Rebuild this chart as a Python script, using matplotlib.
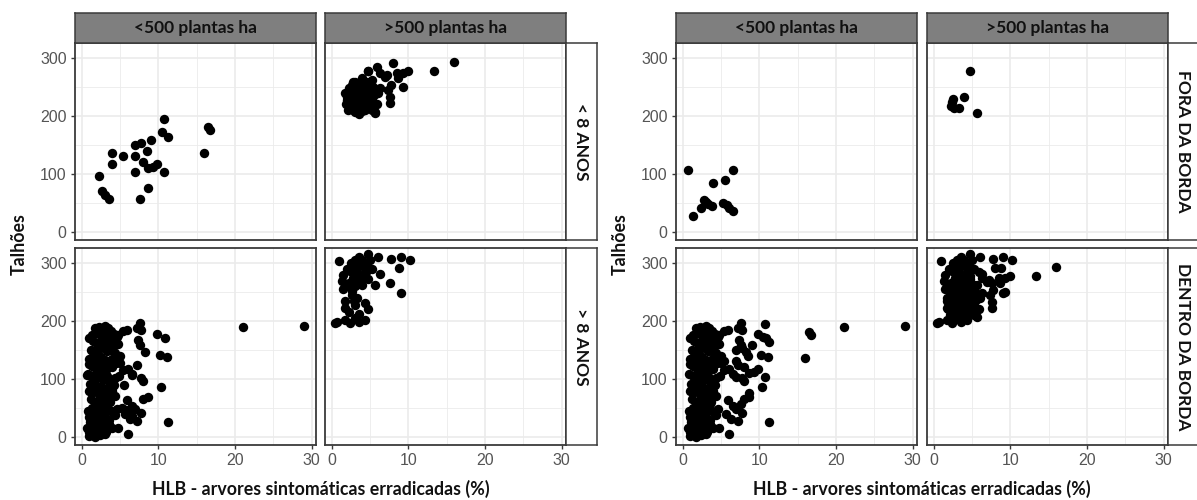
import matplotlib.pyplot as plt
import pandas as pd
from matplotlib.ticker import MultipleLocator

# facet levels
densidade = ['<500 plantas ha', '>500 plantas ha']
idade = ['< 8 ANOS', '> 8 ANOS']
borda = ['FORA DA BORDA', 'DENTRO DA BORDA']

# <500 plantas, < 8 anos, dentro da borda
x_a = [10.7, 16.5, 16.7, 10.5, 11.3, 9.1, 7.0, 7.8, 8.5, 3.9, 5.4, 7.0, 16.0, 4.0, 8.0,
       8.7, 9.8, 9.3, 10.7, 7.0, 2.3, 2.6, 3.0, 3.5, 8.6, 7.6]
y_a = [195, 181, 175, 172, 164, 158, 150, 154, 139, 136, 131, 131, 136, 118, 121,
       110, 117, 112, 103, 103, 96, 70, 64, 57, 75, 56]

# <500 plantas, > 8 anos, dentro da borda
x_b = [1.3, 1.8, 2.2, 2.6, 3.0, 3.4, 3.8, 4.2, 4.6, 2.0, 2.8, 3.6,
       1.0, 1.5, 2.0, 2.5, 3.0, 3.5, 4.0, 4.4, 1.2, 1.8, 2.3, 2.8, 3.3, 3.8, 4.3, 4.8,
       1.0, 1.5, 2.0, 2.5, 3.0, 3.5, 4.0, 4.5, 1.3, 1.9, 2.6, 3.2, 3.9, 0.9, 5.0,
       0.8, 1.3, 1.8, 2.3, 2.8, 3.3, 3.8, 4.4, 1.1, 2.0, 2.7, 3.5, 4.2, 4.9,
       0.9, 1.4, 1.9, 2.4, 2.9, 3.4, 3.9, 1.2, 1.7, 2.2, 2.7, 3.2, 3.7, 4.3,
       0.8, 1.3, 1.8, 2.3, 2.8, 3.3, 3.8, 4.3, 1.0, 1.6, 2.1, 2.6, 3.1, 3.6, 4.6,
       0.7, 1.0, 1.3, 1.6, 2.0, 2.4, 2.8, 3.2, 3.6, 1.1, 2.2, 0.9, 1.8, 3.0, 4.0,
       7.6, 7.2, 7.8, 9.8, 10.9, 7.4, 7.6, 8.3, 10.2, 11.1, 7.2, 6.1, 6.5, 7.8, 8.0,
       10.3, 8.0, 8.7, 7.8, 11.3, 5.9, 6.5, 7.0, 5.7, 6.3, 7.2, 6.1, 4.8, 5.4, 5.0,
       5.9, 4.8, 5.4, 21.0, 29.0]
y_b = [175, 188, 190, 186, 192, 188, 183, 178, 172, 180, 178, 176,
       170, 165, 160, 168, 170, 162, 165, 158, 150, 145, 152, 155, 148, 150, 145, 160,
       135, 140, 130, 138, 132, 125, 135, 128, 122, 118, 120, 115, 120, 125, 140,
       108, 105, 100, 110, 98, 105, 95, 102, 92, 88, 85, 88, 90, 105,
       80, 75, 82, 70, 78, 72, 80, 65, 60, 62, 58, 65, 60, 70,
       45, 50, 42, 48, 40, 52, 45, 38, 35, 30, 33, 28, 35, 30, 48,
       15, 8, 20, 5, 12, 3, 18, 8, 22, 25, 22, 2, 0, 5, 15,
       197, 188, 185, 177, 170, 167, 159, 147, 141, 138, 124, 118, 109, 101, 96,
       86, 66, 69, 42, 26, 63, 54, 48, 40, 31, 28, 5, 16, 115, 127,
       185, 176, 182, 190, 192]

# <500 plantas, > 8 anos, fora da borda
x_c = [0.74, 6.6, 5.5, 3.9, 2.8, 2.4, 3.3, 3.8, 5.2, 5.8, 6.1, 6.5, 1.4, 3.0]
y_c = [107, 107, 89, 84, 55, 42, 48, 45, 50, 47, 41, 36, 27, 52]

# >500 plantas, < 8 anos, dentro da borda
x_d = [15.9, 13.3, 8.0, 5.9, 4.8, 7.2, 6.3, 8.5, 9.3, 10.0, 8.7, 7.8, 7.4, 9.3, 7.6, 7.6,
       7.0, 5.2, 2.6, 3.0, 2.4, 2.2, 2.8, 3.5, 4.3, 5.7, 5.9, 6.1, 4.8, 3.9, 3.5, 5.2,
       4.3, 5.7, 3.3, 2.0, 2.6, 3.9, 4.8, 5.2, 4.6, 3.9, 5.4, 6.3,
       1.8, 2.0, 2.3, 2.6, 2.9, 3.2, 3.5, 3.8, 4.1, 4.4, 4.7, 5.0, 5.3, 2.1, 3.0, 4.0,
       4.6, 3.6, 2.8, 5.5, 1.9, 2.4, 3.4, 4.2]
y_d = [294, 277, 292, 285, 278, 271, 274, 274, 275, 277, 265, 253, 245, 250, 233, 223,
       268, 262, 253, 259, 239, 221, 210, 204, 210, 207, 221, 239, 239, 227, 245, 227,
       250, 245, 218, 233, 216, 213, 218, 210, 259, 265, 250, 248,
       240, 228, 248, 235, 222, 244, 230, 220, 238, 225, 215, 232, 220, 210, 207, 208,
       245, 255, 258, 236, 220, 213, 237, 250]

# >500 plantas, < 8 anos, fora da borda
x_e = [4.7, 2.5, 3.9, 2.2, 2.7, 3.3, 5.6, 2.4]
y_e = [278, 230, 233, 218, 214, 214, 206, 224]

# >500 plantas, > 8 anos, dentro da borda
x_f = [0.96, 3.5, 4.8, 6.1, 7.8, 9.1, 10.2, 8.8, 7.6, 9.1, 5.6, 6.3, 1.3, 1.5, 2.4, 3.0,
       3.9, 4.3, 5.2, 3.9, 4.8, 2.6, 3.3, 3.0, 1.7, 4.3, 4.8, 0.65, 1.7, 3.0, 4.3, 0.4,
       2.4, 3.5, 2.2, 2.6,
       1.5, 2.0, 2.5, 3.0, 3.5, 4.0, 4.5, 2.8, 3.3, 3.7, 2.1, 2.6, 3.1, 1.8, 2.3, 3.5,
       2.9, 4.0, 4.5, 5.0]
y_f = [304, 310, 315, 310, 307, 310, 306, 291, 265, 248, 262, 281, 269, 255, 287, 295,
       301, 292, 290, 278, 272, 252, 240, 228, 223, 231, 220, 199, 202, 205, 202, 197,
       197, 198, 266, 269,
       280, 290, 300, 305, 295, 305, 298, 275, 285, 270, 260, 245, 260, 235, 215, 212,
       235, 262, 285, 305]

grupos = [
    (x_a, y_a, densidade[0], idade[0], borda[1]),
    (x_b, y_b, densidade[0], idade[1], borda[1]),
    (x_c, y_c, densidade[0], idade[1], borda[0]),
    (x_d, y_d, densidade[1], idade[0], borda[1]),
    (x_e, y_e, densidade[1], idade[0], borda[0]),
    (x_f, y_f, densidade[1], idade[1], borda[1]),
]
df = pd.concat([
    pd.DataFrame({'x': gx, 'y': gy, 'dens': d, 'idade': i, 'borda': b})
    for gx, gy, d, i, b in grupos
], ignore_index=True)

W, H = 1197, 500
fig = plt.figure(figsize=(W / 100, H / 100), dpi=100)

BORDER = '#3a3a3a'
TITLE_FONT = ['Lato', 'DejaVu Sans']


def add_box(left, top, width, height, face, text, rotation=0):
    sax = fig.add_axes([left / W, 1 - (top + height) / H, width / W, height / H])
    sax.set_xticks([])
    sax.set_yticks([])
    sax.set_facecolor(face)
    for sp in sax.spines.values():
        sp.set_color(BORDER)
        sp.set_linewidth(1.1)
    sax.text(0.5, 0.5, text, transform=sax.transAxes, ha='center', va='center',
             rotation=rotation, fontsize=12.5, fontweight='bold', color='#111111',
             family=TITLE_FONT)


def facet_grid(row_col, row_levels, x0, col_step):
    for r, rlev in enumerate(row_levels):
        for c, clev in enumerate(densidade):
            left = x0 + c * col_step
            top = 43 + r * 205
            ax = fig.add_axes([left / W, 1 - (top + 197) / H, 241 / W, 197 / H])
            sub = df[(df[row_col] == rlev) & (df['dens'] == clev)]
            ax.scatter(sub['x'], sub['y'], s=46, c='black', linewidths=0, zorder=3)
            ax.set_xlim(-0.87, 30.56)
            ax.set_ylim(-14, 326)
            ax.xaxis.set_major_locator(MultipleLocator(10))
            ax.xaxis.set_minor_locator(MultipleLocator(5))
            ax.yaxis.set_major_locator(MultipleLocator(100))
            ax.yaxis.set_minor_locator(MultipleLocator(50))
            ax.grid(which='major', color='#ebebeb', linewidth=1.2)
            ax.grid(which='minor', color='#ebebeb', linewidth=0.6)
            ax.set_axisbelow(True)
            for sp in ax.spines.values():
                sp.set_color(BORDER)
                sp.set_linewidth(1.3)
            ax.tick_params(which='major', direction='out', length=3, width=1.0,
                           color=BORDER, labelcolor='#555555', labelsize=11.5, pad=3)
            ax.tick_params(which='minor', length=0)
            for lab in ax.get_xticklabels() + ax.get_yticklabels():
                lab.set_family(['Liberation Sans', 'DejaVu Sans'])
            if c > 0:
                ax.tick_params(axis='y', which='both', left=False, labelleft=False)
            if r == 0:
                ax.tick_params(axis='x', which='both', bottom=False, labelbottom=False)
                add_box(left, 13, 241, 30, '#7f7f7f', clev)
            if c == 1:
                add_box(left + 241, top, 31, 197, 'white', rlev, rotation=-90)

    cx = (x0 + x0 + col_step + 241) / 2
    fig.text(cx / W, 1 - 489 / H, 'HLB - arvores sintomáticas erradicadas (%)',
             ha='center', va='center', fontsize=12.8, fontweight='bold',
             color='#111111', family=TITLE_FONT)
    fig.text((x0 - 56) / W, 1 - 244 / H, 'Talhões', ha='center', va='center',
             rotation=90, fontsize=12.8, fontweight='bold', color='#111111',
             family=TITLE_FONT)


facet_grid('idade', idade, 75, 250)
facet_grid('borda', borda, 676, 251)

fig.savefig('out.png', dpi=100)
plt.close(fig)
